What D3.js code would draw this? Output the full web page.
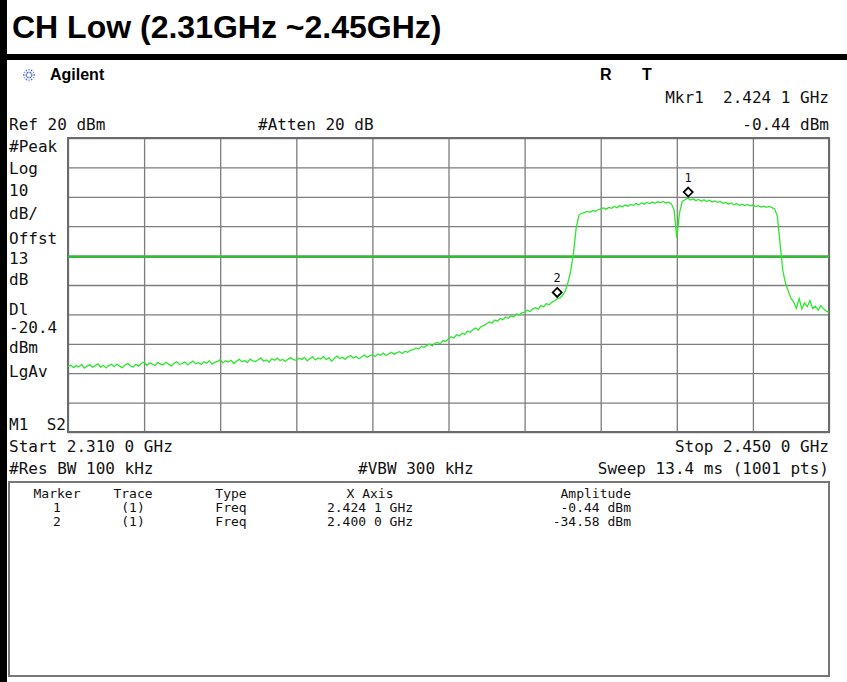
<!DOCTYPE html>
<html>
<head>
<script src="https://cdn.jsdelivr.net/npm/d3@7"></script>
<style>
  body { margin: 0; background: #fff; }
  .mono { font-family: "DejaVu Sans Mono", monospace; fill: #111; }
</style>
</head>
<body>
<script>
// sweep settings
var freqStart = 2.310, freqStop = 2.450
var refLevel = 20, dbPerDiv = 10, displayLine = -20.4

// trace levels (dBm), 0.5 MHz apart
var levels = [
  -57.8, -57.2, -58.1, -57.4, -57.9, -57.0, -58.3, -57.6, -57.1, -58.0, -57.5, -56.8, -57.9, -57.3,
  -58.2, -57.4, -57.0, -57.8, -56.9, -57.6, -58.1, -57.2, -56.7, -57.5, -57.9, -57.0, -57.6, -56.6,
  -56.2, -57.3, -56.5, -56.9, -57.4, -56.4, -56.8, -57.2, -56.3, -56.9, -57.5, -56.6, -56.1, -57.0,
  -56.7, -56.2, -57.1, -56.5, -55.9, -56.8, -56.4, -57.0, -56.1, -56.6, -55.8, -56.9, -56.3, -56.0,
  -55.4, -56.5, -55.8, -56.2, -55.6, -56.7, -55.9, -55.3, -56.1, -55.7, -56.4, -55.2, -55.8, -56.0,
  -55.4, -54.8, -55.9, -55.5, -56.2, -55.1, -55.6, -54.9, -55.7, -55.3, -56.0, -55.2, -54.7, -55.4,
  -55.6, -54.9, -55.3, -54.6, -55.8, -55.1, -54.4, -55.5, -54.8, -55.2, -54.3, -55.4, -54.7, -55.9,
  -54.9, -54.2, -55.0, -54.6, -55.3, -54.4, -54.0, -54.8, -54.3, -55.1, -54.5, -53.8, -54.6, -54.1,
  -53.7, -54.3, -53.5, -53.9, -53.2, -54.0, -53.4, -52.9, -53.6, -53.0, -52.7, -53.3, -52.5, -52.9,
  -52.2, -52.0, -51.4, -51.8, -50.9, -51.2, -50.6, -50.1, -50.7, -49.8, -49.5, -50.0, -48.9, -49.2,
  -48.3, -47.6, -48.0, -46.9, -47.3, -46.4, -46.8, -45.7, -46.1, -45.2, -44.6, -45.3, -44.1, -43.8,
  -43.2, -42.6, -43.0, -41.9, -42.3, -41.4, -41.8, -40.9, -41.3, -40.5, -40.9, -39.8, -40.2, -39.5,
  -39.2, -38.6, -39.0, -38.1, -37.7, -38.2, -37.0, -37.4, -36.3, -36.8, -35.9, -35.4,
  -34.6, -34.4, -33.5, -32.0, -29.0, -25.0, -19.0, -10.5, -6.2, -5.6,
  -5.4, -5.0, -5.3, -4.7, -4.9, -4.4,
  -4.1, -3.8, -4.2, -3.6, -3.9, -3.3, -3.7, -3.0, -3.4, -2.8, -3.2, -2.6, -2.9, -2.3, -2.7, -2.1, -2.5, -1.9, -2.3, -1.8,
  -2.2, -1.7, -2.0, -1.6, -2.1, -1.8, -2.4,
  -4.5, -14.0, -5.5, -1.6, -1.0,
  -0.44, -1.1, -0.7, -1.3, -0.9, -1.5, -1.0, -1.6, -1.2, -1.8, -1.4, -1.9,
  -1.6, -2.2, -1.9, -2.5, -2.1, -2.7, -2.3, -2.9, -2.5, -3.0, -2.6, -3.1, -2.8,
  -3.3, -3.0, -3.5, -3.2, -3.6, -3.3, -3.7,
  -4.2, -6.5, -16.0, -25.0, -29.5, -32.0, -34.5,
  -35.8, -37.9, -34.6, -38.2, -36.1, -37.4, -35.3, -38.0, -37.2, -38.6, -37.0, -38.1, -38.9, -39.3
]

// marker table
var markerNum = ['1', '2']
var markerFreq = [2.4241, 2.4000]
var markerAmp = [-0.44, -34.58]
var markerFreqText = ['2.424 1 GHz', '2.400 0 GHz']
var markerAmpText = ['-0.44 dBm', '-34.58 dBm']

// left annotation column
var leftLabels = ['#Peak', 'Log', '10', 'dB/', 'Offst', '13', 'dB', 'Dl', '-20.4', 'dBm', 'LgAv']
var leftBase = [152, 174, 196, 219, 244, 264, 285, 315, 333, 353, 377]

var w = 847, h = 682
var svg = d3.select('body').append('svg').attr('width', w).attr('height', h)

svg.append('rect').attr('width', w).attr('height', h).attr('fill', '#fff')

// title strip
svg.append('text')
    .attr('x', 12).attr('y', 38)
    .attr('font-family', 'Liberation Sans, Arial, sans-serif')
    .attr('font-weight', 'bold').attr('font-size', 32)
    .text('CH Low (2.31GHz ~2.45GHz)')
svg.append('rect').attr('x', 0).attr('y', 54).attr('width', w).attr('height', 6).attr('fill', '#000')
svg.append('rect').attr('x', 0).attr('y', 0).attr('width', 7).attr('height', h).attr('fill', '#000')

// agilent logo
var logo = svg.append('g').attr('transform', 'translate(29,75)')
d3.range(12).forEach(function (k) {
    var a = k * Math.PI / 6
    logo.append('line')
        .attr('x1', Math.cos(a) * 2).attr('y1', Math.sin(a) * 2)
        .attr('x2', Math.cos(a) * 7).attr('y2', Math.sin(a) * 7)
        .attr('stroke', k % 2 ? '#8899dd' : '#4466cc').attr('stroke-width', 1.3)
        .attr('stroke-dasharray', '1.5,1')
})
svg.append('text').attr('x', 50).attr('y', 80)
    .attr('font-family', 'Liberation Sans, Arial, sans-serif')
    .attr('font-weight', 'bold').attr('font-size', 16).text('Agilent')
svg.append('text').attr('x', 600).attr('y', 80)
    .attr('font-family', 'Liberation Sans, Arial, sans-serif')
    .attr('font-weight', 'bold').attr('font-size', 16).text('R')
svg.append('text').attr('x', 642).attr('y', 80)
    .attr('font-family', 'Liberation Sans, Arial, sans-serif')
    .attr('font-weight', 'bold').attr('font-size', 16).text('T')

function mono(x, y, s, anchor, size) {
    return svg.append('text').attr('class', 'mono')
        .attr('x', x).attr('y', y)
        .attr('font-size', size || 16)
        .attr('text-anchor', anchor || 'start')
        .style('white-space', 'pre')
        .text(s)
}

mono(829, 103, 'Mkr1  ' + markerFreqText[0], 'end')
mono(829, 130, markerAmpText[0], 'end')
mono(9, 130, 'Ref ' + refLevel + ' dBm')
mono(258, 130, '#Atten 20 dB')

leftLabels.forEach(function (s, i) { mono(9, leftBase[i], s) })
mono(9, 430, 'M1')
mono(66, 430, 'S2', 'end')

// graticule
var gLeft = 68, gRight = 829, gTop = 138, gBottom = 432
var x = d3.scaleLinear().domain([freqStart, freqStop]).range([gLeft, gRight])
var y = d3.scaleLinear().domain([refLevel - 10 * dbPerDiv, refLevel]).range([gBottom, gTop])

var xTicks = d3.range(11).map(function (i) { return freqStart + i * (freqStop - freqStart) / 10 })
var yTicks = d3.range(11).map(function (i) { return refLevel - i * dbPerDiv })

svg.append('g')
    .attr('transform', 'translate(0,' + gBottom + ')')
    .call(d3.axisBottom(x).tickValues(xTicks).tickSize(-(gBottom - gTop)).tickFormat(''))
    .call(function (g) { g.select('.domain').remove() })
    .selectAll('line').attr('stroke', '#7d7d7d').attr('stroke-width', 1.3)

svg.append('g')
    .attr('transform', 'translate(' + gLeft + ',0)')
    .call(d3.axisLeft(y).tickValues(yTicks).tickSize(-(gRight - gLeft)).tickFormat(''))
    .call(function (g) { g.select('.domain').remove() })
    .selectAll('line').attr('stroke', '#7d7d7d').attr('stroke-width', 1.3)

svg.append('rect')
    .attr('x', gLeft).attr('y', gTop)
    .attr('width', gRight - gLeft).attr('height', gBottom - gTop)
    .attr('fill', 'none').attr('stroke', '#6b6b6b').attr('stroke-width', 2)

// display line
svg.append('line')
    .attr('x1', gLeft).attr('x2', gRight)
    .attr('y1', y(displayLine)).attr('y2', y(displayLine))
    .attr('stroke', '#33bb33').attr('stroke-width', 2.5)

// trace
var step = (freqStop - freqStart) / (levels.length - 1)
var line = d3.line()
    .x(function (d, i) { return x(freqStart + i * step) })
    .y(function (d) { return y(d) })
svg.append('path')
    .datum(levels)
    .attr('d', line)
    .attr('fill', 'none')
    .attr('stroke', '#2ee62e')
    .attr('stroke-width', 1.3)

// markers
markerNum.forEach(function (m, i) {
    var mx = x(markerFreq[i]), my = y(markerAmp[i]) - 6
    svg.append('path')
        .attr('d', 'M' + mx + ',' + (my - 4.5) + 'L' + (mx + 4.5) + ',' + my + 'L' + mx + ',' + (my + 4.5) + 'L' + (mx - 4.5) + ',' + my + 'Z')
        .attr('fill', '#fff').attr('stroke', '#000').attr('stroke-width', 1.8)
    mono(mx, my - 10, m, 'middle', 12)
})

// bottom annotations
mono(9, 452, 'Start 2.310 0 GHz')
mono(829, 452, 'Stop 2.450 0 GHz', 'end')
mono(9, 474, '#Res BW 100 kHz')
mono(358, 474, '#VBW 300 kHz')
mono(829, 474, 'Sweep 13.4 ms (1001 pts)', 'end')

// marker table
svg.append('rect')
    .attr('x', 9).attr('y', 482).attr('width', 820).attr('height', 194)
    .attr('fill', '#fff').attr('stroke', '#777').attr('stroke-width', 2)

var colX = [57, 133, 231, 370, 631]
var colAnchor = ['middle', 'middle', 'middle', 'middle', 'end']
var header = ['Marker', 'Trace', 'Type', 'X Axis', 'Amplitude']
header.forEach(function (s, j) { mono(colX[j], 498, s, colAnchor[j], 13) })
markerNum.forEach(function (m, i) {
    var row = [m, '(1)', 'Freq', markerFreqText[i], markerAmpText[i]]
    row.forEach(function (s, j) { mono(colX[j], 512 + i * 14, s, colAnchor[j], 13) })
})
</script>
</body>
</html>
